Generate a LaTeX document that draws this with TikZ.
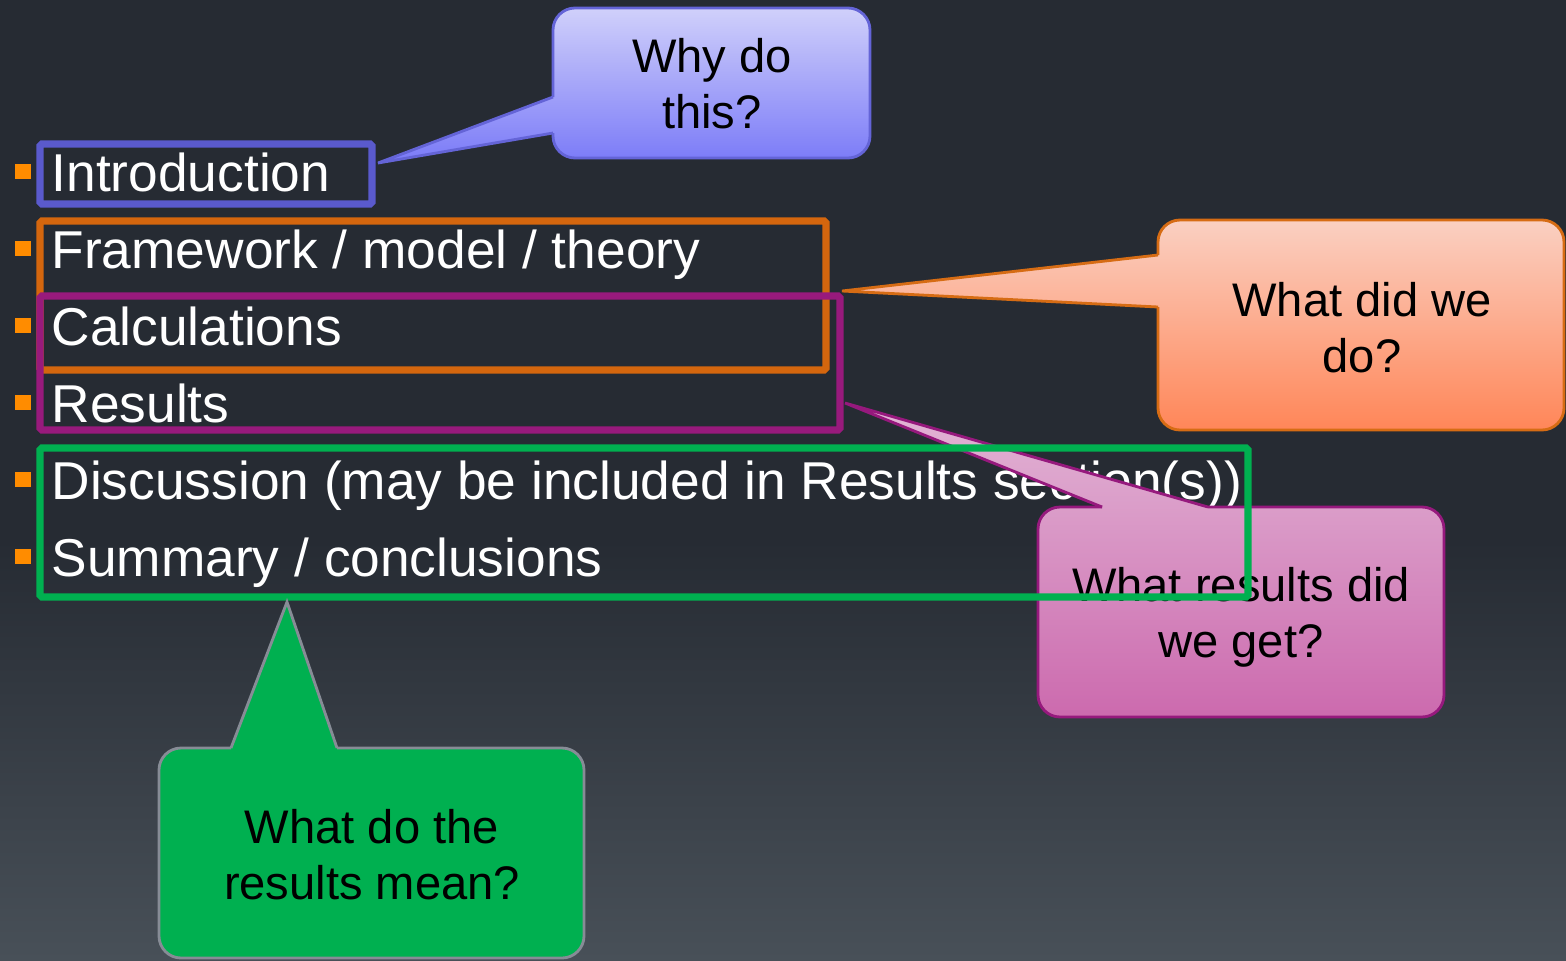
\documentclass[tikz,border=0pt]{standalone}
\usepackage{fontspec}
\setmainfont{Liberation Sans}
\usepackage{tikz}
\usetikzlibrary{positioning}

\definecolor{bgtop}{RGB}{38,43,51}
\definecolor{bgbot}{RGB}{72,80,88}
\definecolor{bulletorange}{RGB}{255,140,0}
\definecolor{introline}{RGB}{90,90,205}
\definecolor{frameline}{RGB}{212,102,14}
\definecolor{calcline}{RGB}{152,26,124}
\definecolor{discline}{RGB}{0,176,80}
\definecolor{whytop}{RGB}{208,208,250}
\definecolor{whybot}{RGB}{122,122,248}
\definecolor{whyline}{RGB}{100,100,215}
\definecolor{dotop}{RGB}{250,208,194}
\definecolor{dobot}{RGB}{255,134,88}
\definecolor{doline}{RGB}{214,108,20}
\definecolor{gettop}{RGB}{226,182,214}
\definecolor{getbot}{RGB}{204,106,174}
\definecolor{getline}{RGB}{150,25,125}
\definecolor{meanfill}{RGB}{0,176,80}
\definecolor{meanline}{RGB}{135,140,150}

\tikzset{
  item/.style={anchor=base west, inner sep=0pt, text=white, font=\fontsize{15.15}{18}\selectfont},
  bulletsq/.style={fill=bulletorange, minimum width=0.16cm, minimum height=0.15cm, inner sep=0pt},
  boxline/.style={line width=2pt, rounded corners=0.5pt},
  asktext/.style={align=center, inner sep=0pt, text=black, font=\fontsize{13.4}{15.9}\selectfont},
  ask/.style={line width=0.8pt, rounded corners=0.22cm},
  askpoint/.style={line width=0.8pt},
}

\begin{document}
\begin{tikzpicture}[x=0.01cm, y=-0.01cm]
        % Background
        \useasboundingbox (0,0) rectangle (1566,960);
        \fill[bgtop] (0,0) rectangle (1566,960);
        \shade[top color=bgtop, bottom color=bgbot] (0,540) rectangle (1566,960);

        % Why do this?
        \coordinate (tipWhy) at (378,163);
        \shade[top color=whytop, bottom color=whybot]
            (553,97) -- (tipWhy) -- (553,133) -- cycle
            [rounded corners=0.22cm] (553,8) rectangle (870,158);
        \draw[ask, whyline] (553,97) -- (553,8) -- (870,8) -- (870,158) -- (553,158) -- (553,133);
        \draw[askpoint, whyline] (553,97) -- (tipWhy) -- (553,133);
        \node[asktext] (why) at (712,84) {Why do\\this?};

        % What did we do?
        \coordinate (tipDo) at (842,291);
        \shade[top color=dotop, bottom color=dobot]
            (1158,255) -- (tipDo) -- (1158,307) -- cycle
            [rounded corners=0.22cm] (1158,220) rectangle (1564,430);
        \draw[ask, doline] (1158,255) -- (1158,220) -- (1564,220) -- (1564,430) -- (1158,430) -- (1158,307);
        \draw[askpoint, doline] (1158,255) -- (tipDo) -- (1158,307);
        \node[asktext] (do) at (1362,328) {What did we\\do?};

        % Define the items
        \node[item] (intro) at (51,191) {Introduction};
        \node[item] (frame) at (51,268) {Framework / model / theory};
        \node[item] (calc) at (51,345) {Calculations};
        \node[item] (res) at (51,422) {Results};
        \node[item] (disc) at (51,499) {Discussion (may be included in Results section(s))};
        \node[item] (summ) at (51,576) {Summary / conclusions};

        % Bullets
        \node[bulletsq] (b1) at (23,171) {};
        \node[bulletsq] (b2) at (23,248) {};
        \node[bulletsq] (b3) at (23,325) {};
        \node[bulletsq] (b4) at (23,402) {};
        \node[bulletsq] (b5) at (23,479) {};
        \node[bulletsq] (b6) at (23,556) {};

        % Draw boxes
        \draw[boxline, introline] (40,144) rectangle (372,204);
        \draw[boxline, frameline] (40,221) rectangle (826,370);
        \draw[boxline, calcline] (40,296) rectangle (840,430);

        % What results did we get?
        \coordinate (tipGet) at (845,403);
        \shade[top color=gettop, bottom color=getbot]
            (1102,507) -- (tipGet) -- (1208,507) -- cycle
            [rounded corners=0.22cm] (1038,507) rectangle (1444,717);
        \draw[ask, getline] (1102,507) -- (1038,507) -- (1038,717) -- (1444,717) -- (1444,507) -- (1208,507);
        \draw[askpoint, getline] (1102,507) -- (tipGet) -- (1208,507);
        \node[asktext] (get) at (1241,617) {What results did\\we get?};

        \draw[boxline, discline] (40,448) rectangle (1248,597);

        % What do the results mean?
        \coordinate (tipMean) at (287,602);
        \fill[meanfill]
            (231,748) -- (tipMean) -- (337,748) -- cycle
            [rounded corners=0.22cm] (159,748) rectangle (584,958);
        \draw[ask, meanline] (231,748) -- (159,748) -- (159,958) -- (584,958) -- (584,748) -- (337,748);
        \draw[askpoint, meanline] (231,748) -- (tipMean) -- (337,748);
        \node[asktext] (mean) at (372,855) {What do the\\results mean?};
    \end{tikzpicture}
\end{document}
